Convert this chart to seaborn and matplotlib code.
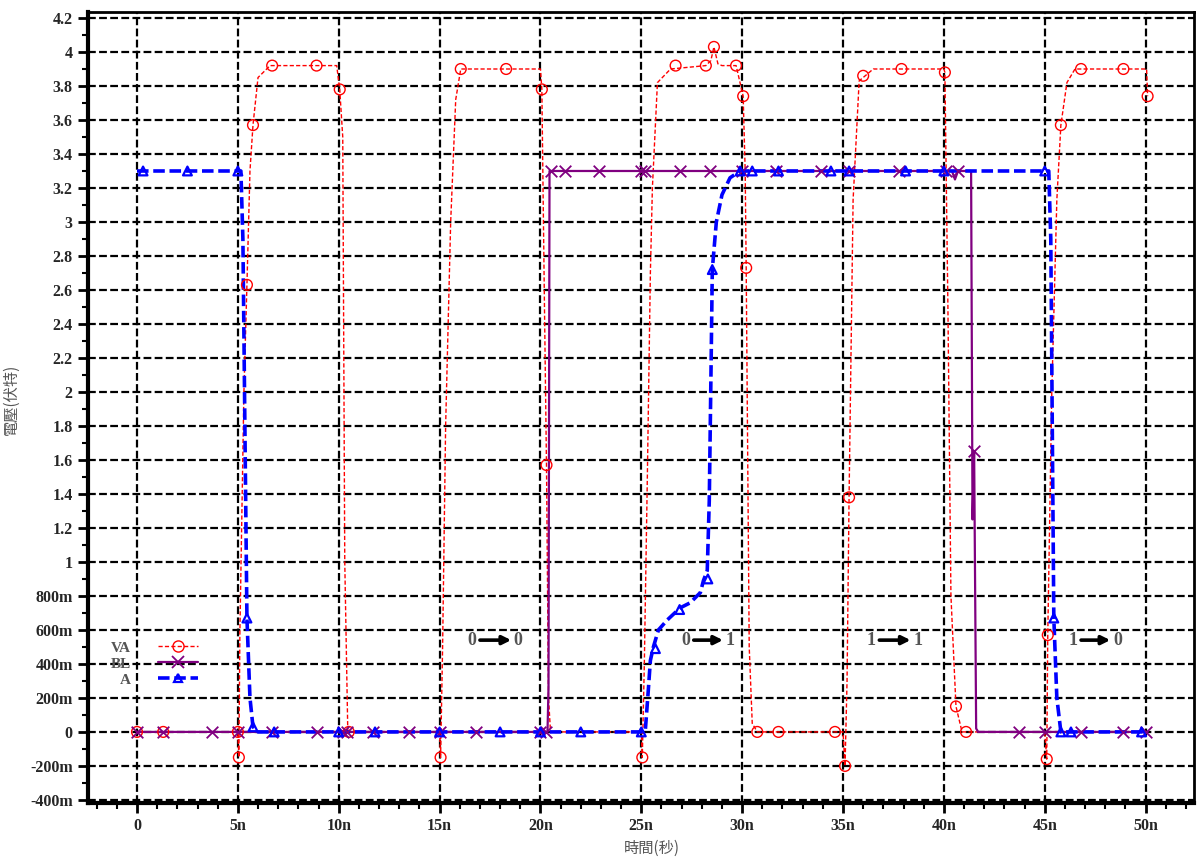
import matplotlib
matplotlib.use("Agg")
import matplotlib.pyplot as plt
import seaborn as sns
import numpy as np
from matplotlib.lines import Line2D
from matplotlib.ticker import MultipleLocator

# ---------------- data (time in ns, voltage in V) ----------------
va_t = [0, 5.0, 5.05, 5.1, 5.3, 5.45, 5.6, 5.75, 6.0, 6.6, 9.9, 10.05, 10.2, 10.3, 10.45,
        15.0, 15.05, 15.15, 15.3, 15.55, 15.8, 16.05, 20.0, 20.07, 20.2, 20.3, 20.4, 20.5,
        25.0, 25.05, 25.15, 25.3, 25.45, 25.55, 25.8, 26.45, 28.2, 28.45, 28.6, 28.8, 29.0, 29.7,
        30.05, 30.15, 30.2, 30.35, 30.5, 30.75,
        35.0, 35.1, 35.2, 35.3, 35.5, 35.8, 36.5, 40.0, 40.05, 40.2, 40.35, 40.6, 40.9,
        45.0, 45.1, 45.15, 45.35, 45.6, 45.8, 46.1, 46.5, 50.05, 50.1]
va_v = [0, 0, -0.15, 0.58, 2.0, 2.63, 3.3, 3.57, 3.85, 3.92, 3.92, 3.78, 3.5, 1.0, 0,
        0, -0.15, 0.5, 1.8, 3.0, 3.72, 3.9, 3.9, 3.78, 2.5, 1.57, 0.2, 0,
        0, -0.15, 0.4, 1.5, 2.7, 3.2, 3.82, 3.9, 3.92, 3.95, 4.03, 3.93, 3.92, 3.92,
        3.74, 3.3, 2.73, 0.5, 0.05, 0,
        0, -0.2, 0.3, 1.38, 3.13, 3.83, 3.9, 3.9, 3.88, 2.5, 0.8, 0.15, 0,
        0, -0.16, 0.57, 2.0, 3.13, 3.57, 3.82, 3.9, 3.9, 3.74]
va_mk_t = [0, 1.3, 5.0, 5.05, 5.45, 5.75, 6.7, 8.9, 10.05, 10.5, 15.05, 16.05, 18.3, 20.07, 20.3,
           25.05, 26.7, 28.2, 28.6, 29.7, 30.05, 30.2, 30.75, 31.8, 34.6, 35.1, 35.3, 36.0, 37.9,
           40.05, 40.6, 41.1, 45.1, 45.15, 45.8, 46.8, 48.9, 50.1]
va_mk_v = [0, 0, 0, -0.15, 2.63, 3.57, 3.92, 3.92, 3.78, 0, -0.15, 3.9, 3.9, 3.78, 1.57,
           -0.15, 3.92, 3.92, 4.03, 3.92, 3.74, 2.73, 0, 0, 0, -0.2, 1.38, 3.86, 3.9,
           3.88, 0.15, 0, -0.16, 0.57, 3.57, 3.9, 3.9, 3.74]

bl_t = [0, 20.35, 20.4, 20.45, 20.55, 40.4, 40.55, 40.7, 41.35, 41.42, 41.5, 41.6, 41.7, 50.1]
bl_v = [0, 0, 0.26, 3.3, 3.3, 3.3, 3.25, 3.3, 3.3, 1.25, 1.65, 0.02, 0, 0]
bl_mk_t = [0, 1.3, 3.7, 5.0, 6.7, 8.9, 10.2, 10.4, 11.7, 13.5, 15.0, 16.8, 20.0, 20.3,
           20.5, 21.2, 22.9, 25.0, 25.2, 26.9, 28.4, 30.0, 31.7, 33.9, 35.3, 37.8, 40.1, 40.7,
           41.5, 43.7, 45.0, 46.8, 48.9, 50.0]
bl_mk_v = [0, 0, 0, 0, 0, 0, 0, 0, 0, 0, 0, 0, 0, 0,
           3.3, 3.3, 3.3, 3.3, 3.3, 3.3, 3.3, 3.3, 3.3, 3.3, 3.3, 3.3, 3.3, 3.3,
           1.65, 0, 0, 0, 0, 0]

a_t = [0, 5.15, 5.25, 5.45, 5.6, 5.75, 6.0, 25.0, 25.2, 25.35, 25.45, 25.6, 25.85, 26.3, 26.93,
       27.43, 27.93, 28.08, 28.27, 28.37, 28.47, 28.52, 28.72, 29.0, 29.4, 29.9, 45.2, 45.3,
       45.45, 45.6, 45.8, 50.1]
a_v = [3.3, 3.3, 2.9, 0.67, 0.2, 0.03, 0, 0, 0.01, 0.25, 0.42, 0.5, 0.6, 0.66, 0.73,
       0.76, 0.82, 0.89, 0.95, 1.36, 2.25, 2.72, 3.0, 3.16, 3.26, 3.3, 3.3, 2.9,
       0.67, 0.2, 0, 0]
a_mk_t = [0.3, 2.5, 5.0, 5.45, 5.75, 6.8, 10.0, 11.8, 15.0, 18.0, 20.0, 22.0, 25.0, 25.7, 26.9,
          28.3, 28.52, 29.9, 30.5, 31.8, 34.4, 35.3, 38.1, 40.0, 45.0, 45.45, 45.8, 46.3, 49.8]
a_mk_v = [3.3, 3.3, 3.3, 0.67, 0.03, 0, 0, 0, 0, 0, 0, 0, 0, 0.49, 0.72,
          0.9, 2.72, 3.3, 3.3, 3.3, 3.3, 3.3, 3.3, 3.3, 3.3, 0.67, 0, 0, 0]

series_names = ["VA", "BL", "A"]

x_ticks = [0, 5, 10, 15, 20, 25, 30, 35, 40, 45, 50]
x_ticklabels = ["0", "5n", "10n", "15n", "20n", "25n", "30n", "35n", "40n", "45n", "50n"]
y_ticks = [-0.4, -0.2, 0, 0.2, 0.4, 0.6, 0.8, 1.0, 1.2, 1.4, 1.6, 1.8, 2.0, 2.2, 2.4, 2.6,
           2.8, 3.0, 3.2, 3.4, 3.6, 3.8, 4.0, 4.2]
y_ticklabels = ["-400m", "-200m", "0", "200m", "400m", "600m", "800m", "1", "1.2", "1.4",
                "1.6", "1.8", "2", "2.2", "2.4", "2.6", "2.8", "3", "3.2", "3.4", "3.6",
                "3.8", "4", "4.2"]

transitions = [("0", "0", 16.6, 18.9), ("0", "1", 27.2, 29.4), ("1", "1", 36.4, 38.7),
               ("1", "0", 46.4, 48.6)]
transition_y = 0.54

# ---------------- style ----------------
sns.set_style("white")
plt.rcParams["font.family"] = ["Liberation Serif", "Noto Sans CJK TC", "DejaVu Sans"]

RED = "#ff0000"
PURPLE = "#800080"
BLUE = "#0000ff"

fig = plt.figure(figsize=(11.97, 8.61), dpi=100)
ax = fig.add_axes([0.0735, 0.0674, 0.924, 0.9186])

# lines
sns.lineplot(x=va_t, y=va_v, sort=False, estimator=None, color=RED, linewidth=1.0, ax=ax)
sns.lineplot(x=bl_t, y=bl_v, sort=False, estimator=None, color=PURPLE, linewidth=1.6, ax=ax)
sns.lineplot(x=a_t, y=a_v, sort=False, estimator=None, color=BLUE, linewidth=2.6, ax=ax)
lines = ax.get_lines()
lines[0].set_dashes((3, 1.6))
lines[2].set_dashes((3.2, 1.3))

# markers
sns.scatterplot(x=va_mk_t, y=va_mk_v, marker="o", s=60, facecolor="none", edgecolor=RED,
                linewidth=1.0, ax=ax, zorder=3)
sns.scatterplot(x=bl_mk_t, y=bl_mk_v, marker="x", s=70, color=PURPLE, linewidth=1.3, ax=ax,
                zorder=3)
sns.scatterplot(x=a_mk_t, y=a_mk_v, marker="^", s=40, facecolor="none", edgecolor=BLUE,
                linewidth=1.6, ax=ax, zorder=4)

# axes limits & ticks
ax.set_xlim(-2.43, 52.4)
ax.set_ylim(-0.418, 4.235)
ax.set_xticks(x_ticks)
ax.set_xticklabels(x_ticklabels)
ax.set_yticks(y_ticks)
ax.set_yticklabels(y_ticklabels)
ax.xaxis.set_minor_locator(MultipleLocator(1))
ax.yaxis.set_minor_locator(MultipleLocator(0.1))
ax.tick_params(axis="both", which="major", direction="out", length=7, width=2, color="black",
               labelsize=11.5, pad=4)
ax.tick_params(axis="both", which="minor", direction="out", length=4, width=1.5, color="black")
ax.tick_params(axis="x", which="both", bottom=True)
ax.tick_params(axis="y", which="both", left=True)
for lab in ax.get_xticklabels() + ax.get_yticklabels():
    lab.set_fontweight("bold")

ax.grid(True, which="major", color="black", linestyle=(0, (3.5, 1.5)), linewidth=1.6)
ax.set_axisbelow(True)
for sp in ax.spines.values():
    sp.set_visible(True)
    sp.set_color("black")
    sp.set_linewidth(2.0)
ax.spines["left"].set_linewidth(3.0)
ax.spines["bottom"].set_linewidth(3.0)

ax.set_xlabel("時間(秒)", fontsize=11, color="#555555",
              family=["Noto Sans CJK TC", "DejaVu Sans"])
ax.set_ylabel("電壓(伏特)", fontsize=11, color="#555555",
              family=["Noto Sans CJK TC", "DejaVu Sans"])
ax.xaxis.set_label_coords(0.51, -0.047)
ax.yaxis.set_label_coords(-0.062, 0.51)

# legend (labels left of handles)
handles = [
    Line2D([], [], color=RED, linewidth=1.0, dashes=(3, 1.6), marker="o", markersize=8,
           markerfacecolor="none", markeredgecolor=RED),
    Line2D([], [], color=PURPLE, linewidth=1.6, marker="x", markersize=9,
           markeredgewidth=1.3),
    Line2D([], [], color=BLUE, linewidth=2.6, dashes=(3.2, 1.3), marker="^", markersize=6,
           markerfacecolor="none", markeredgecolor=BLUE, markeredgewidth=1.6),
]
leg = ax.legend(handles, series_names, loc="upper left", bbox_to_anchor=(0.008, 0.222),
                markerfirst=False, frameon=False, handlelength=2.6, handletextpad=1.8,
                labelspacing=0.15, alignment="left",
                prop={"family": "Liberation Serif", "size": 11, "weight": "bold"})
for t in leg.get_texts():
    t.set_color("#555555")
    t.set_ha("center")

# transition annotations
for a, b, x0, x1 in transitions:
    ax.text(x0, transition_y, a, ha="center", va="center", fontsize=13, color="#555555",
            fontweight="bold")
    ax.text(x1, transition_y, b, ha="center", va="center", fontsize=13, color="#555555",
            fontweight="bold")
    ax.annotate("", xy=(x1 - 0.35, transition_y), xytext=(x0 + 0.4, transition_y),
                arrowprops=dict(arrowstyle="-|>,head_length=0.5,head_width=0.25",
                                color="black", lw=2.6, shrinkA=0, shrinkB=0))

fig.savefig("out.png", dpi=100)
